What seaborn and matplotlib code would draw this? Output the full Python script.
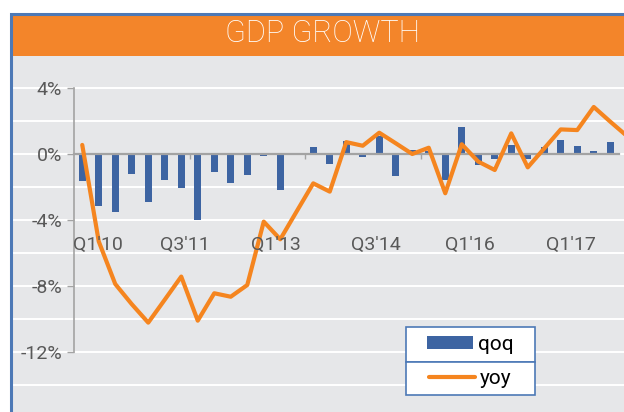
import numpy as np
import pandas as pd
import matplotlib
matplotlib.use("Agg")
import matplotlib.pyplot as plt
from matplotlib.patches import Rectangle
from matplotlib.ticker import FixedLocator, MultipleLocator
import seaborn as sns

# ---------------- data ----------------
quarters = ["Q1'10", "Q2'10", "Q3'10", "Q4'10", "Q1'11", "Q2'11", "Q3'11", "Q4'11",
            "Q1'12", "Q2'12", "Q3'12", "Q4'12", "Q1'13", "Q2'13", "Q3'13", "Q4'13",
            "Q1'14", "Q2'14", "Q3'14", "Q4'14", "Q1'15", "Q2'15", "Q3'15", "Q4'15",
            "Q1'16", "Q2'16", "Q3'16", "Q4'16", "Q1'17", "Q2'17", "Q3'17", "Q4'17",
            "Q1'18", "Q2'18"]
qoq = [-1.62, -3.13, -3.54, -1.19, -2.89, -1.56, -2.08, -4.00,
       -1.09, -1.78, -1.25, -0.10, -2.20, 0.08, 0.44, -0.63,
       0.79, -0.20, 1.11, -1.31, 0.24, 0.18, -1.58, 1.66,
       -0.69, -0.32, 0.55, -0.30, 0.44, 0.85, 0.50, 0.20,
       0.73, np.nan]
yoy = [0.55, -5.30, -7.88, -9.10, -10.22, -8.83, -7.43, -10.10,
       -8.44, -8.65, -7.94, -4.10, -5.17, -3.47, -1.78, -2.28,
       0.72, 0.50, 1.29, 0.65, 0.00, 0.38, -2.38, 0.59,
       -0.46, -0.97, 1.25, -0.81, 0.34, 1.49, 1.45, 2.85,
       1.96, 1.10]
axis_labels = ["Q1'10", "Q3'11", "Q1'13", "Q3'14", "Q1'16", "Q1'17"]
ytick_vals = [-12, -8, -4, 0, 4]
ytick_text = ["-12%", "-8%", "-4%", "0%", "4%"]
title = "GDP GROWTH"

df = pd.DataFrame({"quarter": quarters, "idx": np.arange(len(quarters)),
                   "qoq": qoq, "yoy": yoy})

# ---------------- style ----------------
sns.set_style("white")
plt.rcParams["font.family"] = ["Roboto", "DejaVu Sans"]

W, H = 624, 412
BLUE = "#3d64a2"
ORANGE = "#f5851f"
TITLE_BG = "#f3852a"
PANEL = "#e6e7e9"
AXGRAY = "#a3a3a3"
TXT = "#595959"
BORDER = "#4d79b6"

def fx(px):
    return px / W

def fy(py):
    return 1 - py / H

fig = plt.figure(figsize=(W / 100, H / 100), dpi=100)
fig.patch.set_facecolor("white")

# axes geometry (pixels): extends past the right / bottom edge like the crop
ax_l, ax_r, ax_t, ax_b = 11, 700, 55, 440
ax = fig.add_axes([fx(ax_l), fy(ax_b), (ax_r - ax_l) / W, (ax_b - ax_t) / H])
ax.set_facecolor(PANEL)

sns.barplot(data=df, x="quarter", y="qoq", order=quarters, color=BLUE,
            saturation=1, width=0.4, errorbar=None, ax=ax, label="qoq",
            linewidth=0, zorder=2)
sns.lineplot(data=df, x="idx", y="yoy", color=ORANGE, linewidth=3.0,
             sort=False, ax=ax, label="yoy", zorder=3)
if ax.get_legend() is not None:
    ax.get_legend().remove()

# scale: 16.5 px per category and per percentage point
ppu = 16.5
y_top = 6.0
ax.set_ylim(y_top - (ax_b - ax_t) / ppu, y_top)
x_left = -0.5 - (74 - ax_l) / ppu
ax.set_xlim(x_left, x_left + (ax_r - ax_l) / ppu)

# grid
ax.yaxis.set_major_locator(FixedLocator(ytick_vals))
ax.yaxis.set_minor_locator(MultipleLocator(2))
ax.set_yticklabels(ytick_text)
ax.grid(which="both", axis="y", color="white", linewidth=1.4)
ax.grid(which="both", axis="x", visible=False)
ax.set_axisbelow(True)
ax.tick_params(axis="y", which="major", direction="out", length=5, width=1,
               color=AXGRAY, labelsize=14, labelcolor=TXT, pad=3.5, left=True)
ax.tick_params(axis="y", which="minor", length=0)

# x ticks on the zero line
ax.set_xticks([6.5, 13.5, 20.5, 27.5])
ax.set_xticklabels([])
ax.tick_params(axis="x", direction="out", length=3.5, width=1, color=AXGRAY,
               bottom=True)
ax.set_xlabel("")
ax.set_ylabel("")

for s in ["top", "right"]:
    ax.spines[s].set_visible(False)
ax.spines["left"].set_position(("data", -0.5))
ax.spines["left"].set_bounds(-12, 4)
ax.spines["left"].set_color(AXGRAY)
ax.spines["left"].set_linewidth(1.2)
ax.spines["bottom"].set_position(("data", 0))
ax.spines["bottom"].set_bounds(-0.5, len(quarters) - 1.5)
ax.spines["bottom"].set_color(AXGRAY)
ax.spines["bottom"].set_linewidth(1.6)

# category labels (sparse, as in the reference)
label_pos = [0.97, 6.24, 11.73, 17.82, 23.5, 29.64]
for p, t in zip(label_pos, axis_labels):
    ax.text(p, -5.52, t, ha="center", va="center", fontsize=14, color=TXT)

# title bar & border
fig.add_artist(Rectangle((fx(10.5), fy(55.5)), (800 - 10.5) / W, (55.5 - 14) / H,
                         transform=fig.transFigure, facecolor=TITLE_BG,
                         edgecolor="none", zorder=1))
fig.add_artist(Rectangle((fx(10.5), fy(600)), (900 - 10.5) / W, (600 - 14) / H,
                         transform=fig.transFigure, facecolor="none",
                         edgecolor=BORDER, linewidth=2.2, zorder=6))
fig.text(fx(322), fy(34), title, ha="center", va="center", color="white",
         fontsize=22, fontweight="light", zorder=7)

# legend boxes with separator
fig.add_artist(Rectangle((fx(406), fy(362)), 129 / W, 35 / H,
                         transform=fig.transFigure, facecolor="white",
                         edgecolor=BORDER, linewidth=1.2, zorder=4))
fig.add_artist(Rectangle((fx(406), fy(395)), 129 / W, 33 / H,
                         transform=fig.transFigure, facecolor="white",
                         edgecolor=BORDER, linewidth=1.2, zorder=4))
handles, labels = ax.get_legend_handles_labels()
hmap = dict(zip(labels, handles))
for lab, cy in [("qoq", 344.5), ("yoy", 378.5)]:
    leg = fig.legend([hmap[lab]], [lab], loc="center",
                     bbox_to_anchor=(fx(470.5), fy(cy)), frameon=False,
                     fontsize=15, handlelength=2.2, handleheight=0.58,
                     handletextpad=0.25, borderpad=0.1, borderaxespad=0)
    leg.set_zorder(5)
    for t in leg.get_texts():
        t.set_color("black")

fig.savefig("out.png", dpi=100)
